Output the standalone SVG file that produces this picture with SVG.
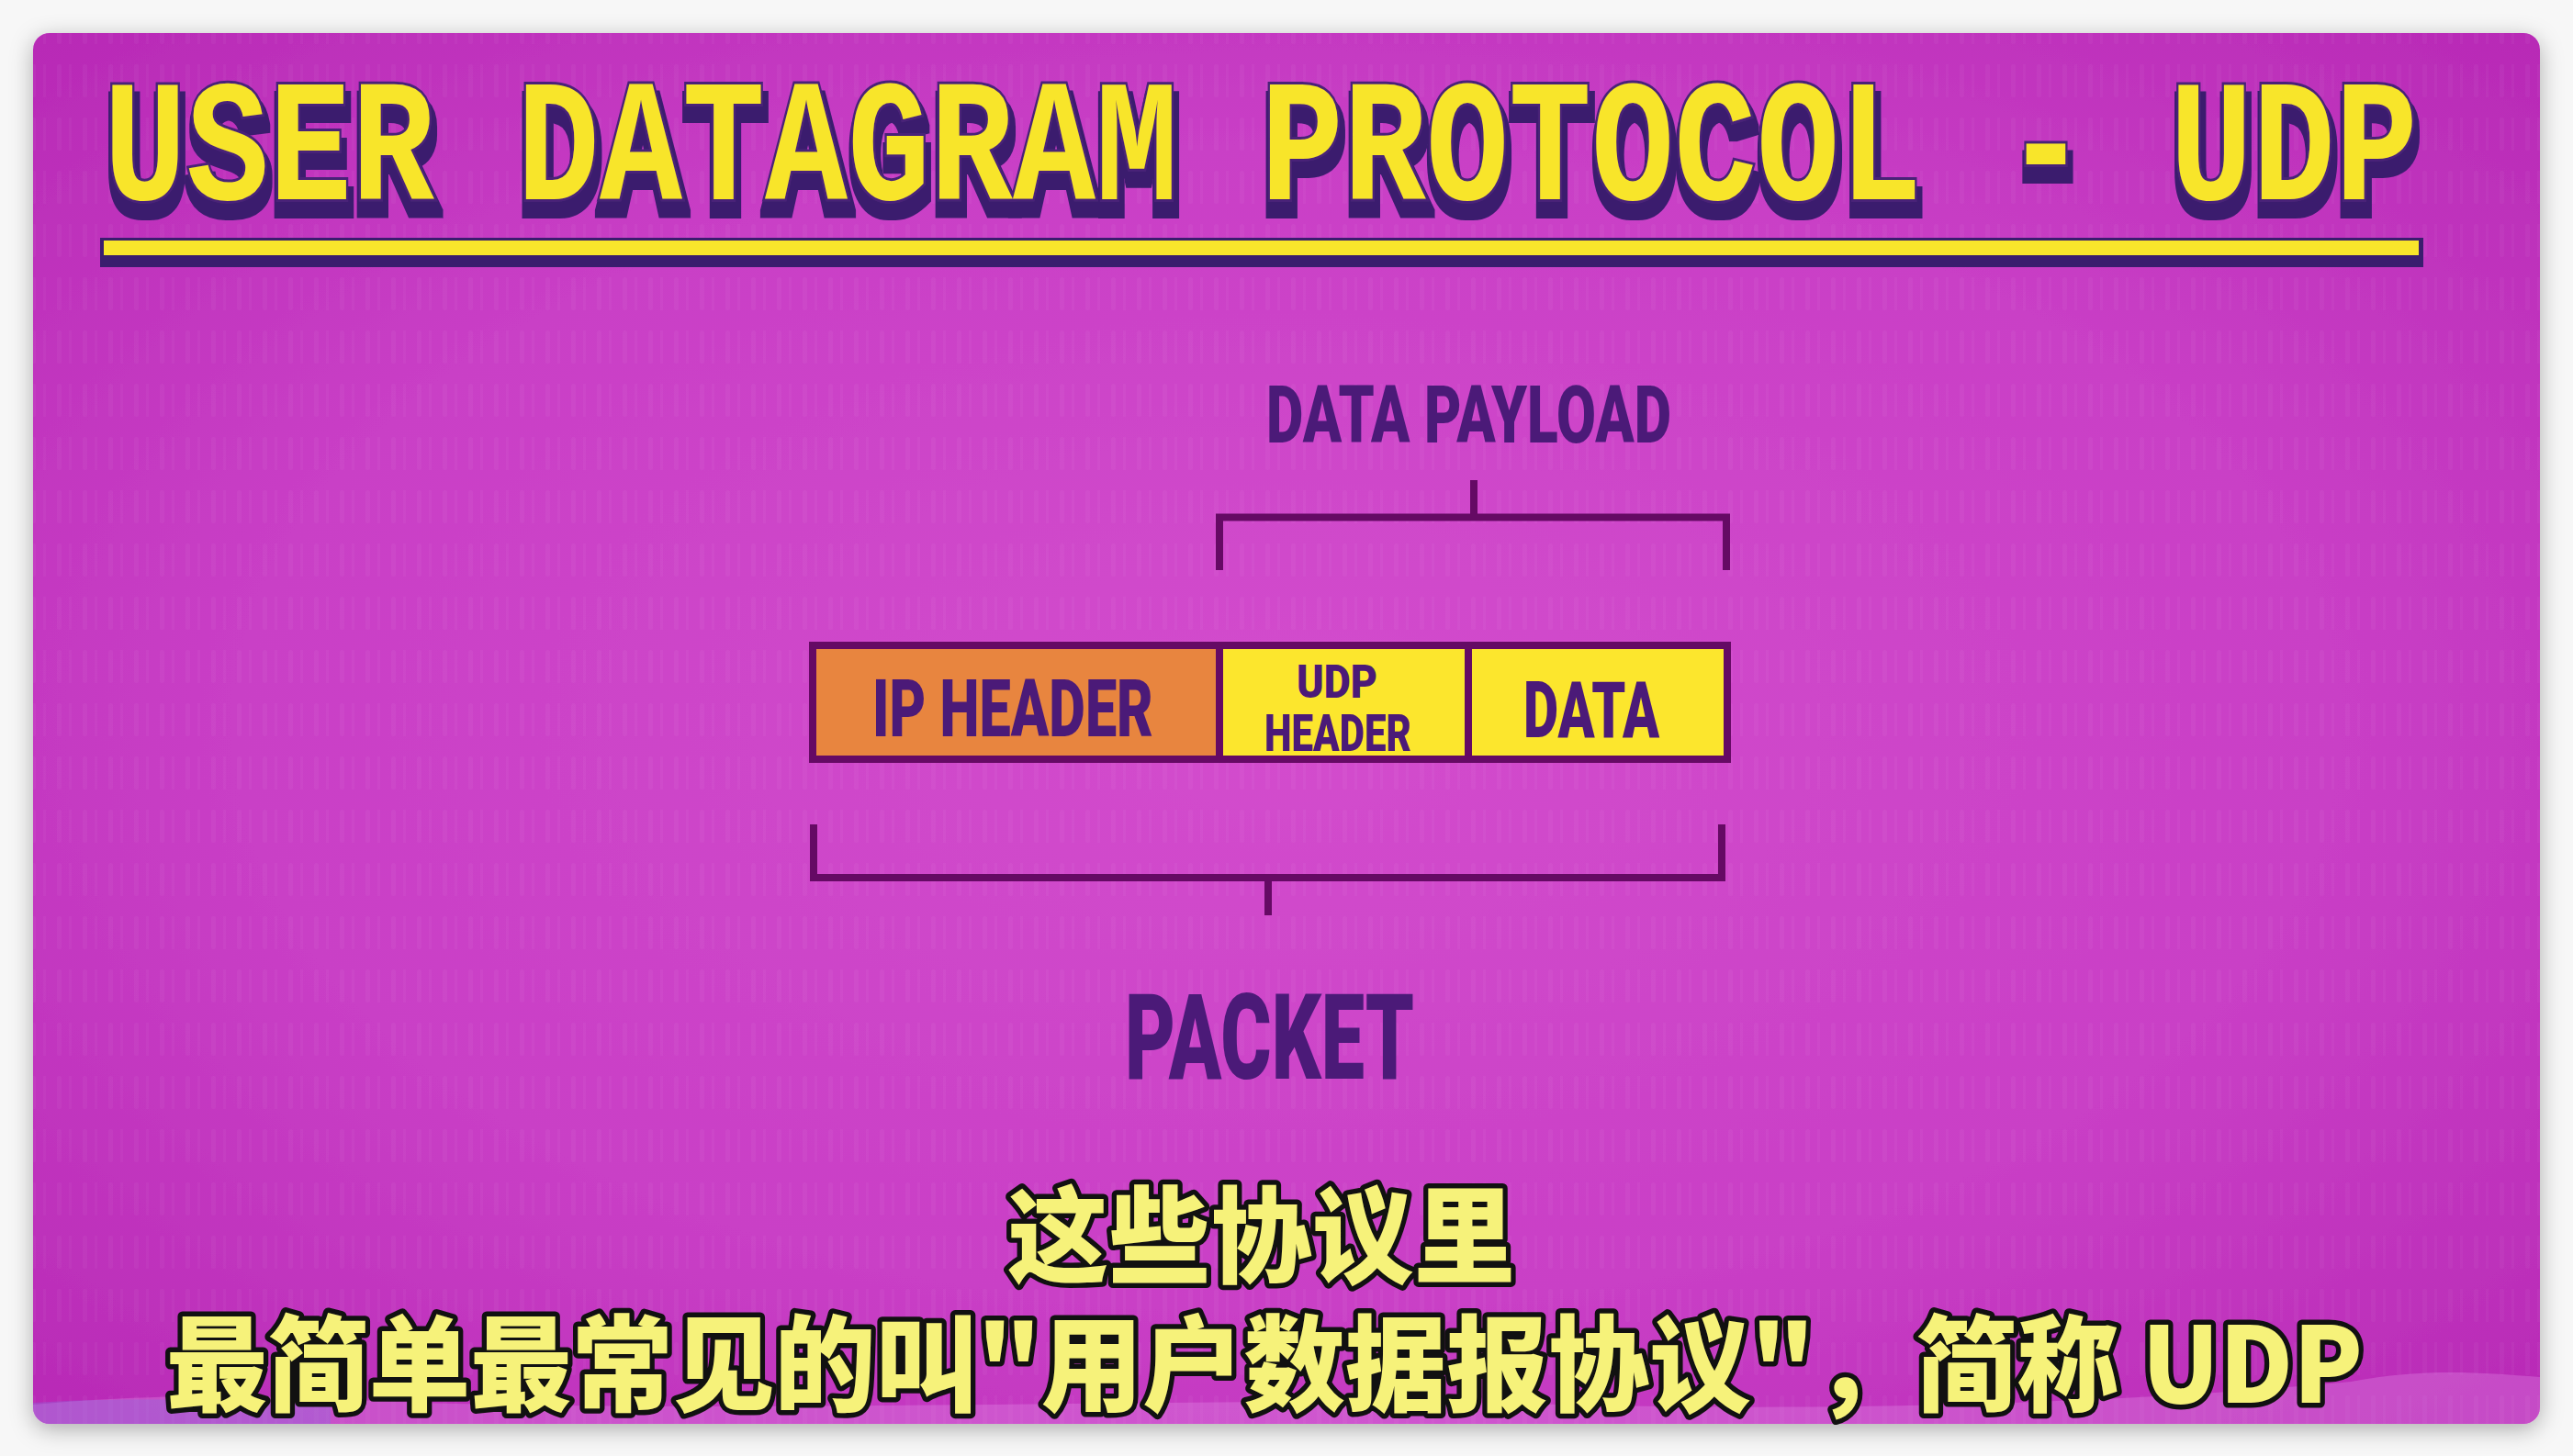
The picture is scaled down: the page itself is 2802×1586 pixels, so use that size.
<svg xmlns="http://www.w3.org/2000/svg" width="2802" height="1586" viewBox="0 0 2802 1586">
<defs>
<radialGradient id="bg" cx="0.5" cy="0.5" r="0.7">
<stop offset="0" stop-color="#d34dcd"/>
<stop offset="0.6" stop-color="#c93fc6"/>
<stop offset="1" stop-color="#b82ab6"/>
</radialGradient>
<filter id="sh" x="-5%" y="-5%" width="110%" height="110%">
<feDropShadow dx="0" dy="6" stdDeviation="12" flood-color="#000" flood-opacity="0.3"/>
</filter>
<filter id="ts" x="-2%" y="-30%" width="104%" height="170%">
<feMorphology in="SourceAlpha" operator="dilate" radius="4" result="d"/>
<feOffset in="d" dx="2" dy="14" result="o"/>
<feFlood flood-color="#3a1d6e"/>
<feComposite in2="o" operator="in" result="s"/>
<feMerge><feMergeNode in="s"/><feMergeNode in="SourceGraphic"/></feMerge>
</filter>
<clipPath id="fc"><rect x="36" y="36" width="2730" height="1515" rx="18"/></clipPath>
<pattern id="stripes" x="0" y="0" width="28" height="58" patternUnits="userSpaceOnUse">
<rect x="6" y="12" width="5" height="36" rx="2.5" fill="#ffffff" fill-opacity="0.035"/>
<rect x="19" y="12" width="3" height="36" fill="#ffffff" fill-opacity="0.03"/>
</pattern>
<style>
.lbl{font-family:Roboto,"Liberation Sans",Arial,sans-serif;font-weight:900;fill:#4b1a78;}
.cell{stroke:#650a64;stroke-width:8;}
.br{fill:none;stroke:#650a64;stroke-width:8;stroke-linecap:square;stroke-linejoin:miter;}
.ttl{font-family:"Liberation Mono","Courier New",monospace;font-weight:bold;font-size:190px;}
.sub{font-family:"Noto Sans CJK SC","Noto Sans",sans-serif;font-weight:900;font-size:114px;fill:#f6f27a;stroke:#111111;stroke-width:11;stroke-linejoin:round;paint-order:stroke;}
</style>
</defs>
<rect x="0" y="0" width="2802" height="1586" fill="#f7f7f7"/>
<g id="frame">
<rect x="36" y="36" width="2730" height="1515" rx="18" fill="url(#bg)" filter="url(#sh)"/>
<g clip-path="url(#fc)">
<rect x="36" y="36" width="2730" height="1515" fill="url(#stripes)"/>
<path d="M36 1530 C200 1515 320 1522 460 1528 C900 1540 1300 1520 1700 1530 C2100 1540 2400 1520 2560 1505 C2640 1490 2700 1495 2766 1500 L2766 1551 L36 1551 Z" fill="#e9a0f0" fill-opacity="0.28"/>
<path d="M36 1528 C120 1522 240 1524 360 1530 L360 1551 L36 1551 Z" fill="#8a70e0" fill-opacity="0.35"/>
</g>
</g>
<g id="title">
<rect x="109" y="259" width="2530" height="32" fill="#3a1d6e"/>
<rect x="113" y="262" width="2521" height="16" fill="#f8e52b"/>
<text class="ttl" x="113" y="217" textLength="2520" lengthAdjust="spacingAndGlyphs" fill="#f8e52b" stroke="#4a2478" stroke-width="6" stroke-linejoin="miter" paint-order="stroke" filter="url(#ts)">USER DATAGRAM PROTOCOL - UDP</text>
</g>
<g id="connectors">
<path class="br" d="M1328 617 V563.5 H1880 V617"/>
<path class="br" d="M1605 527 V563"/>
<path class="br" d="M886 902 V956 H1875 V902"/>
<path class="br" d="M1381 956 V993"/>
</g>
<g id="data-payload-label">
<text class="lbl" x="1379" y="482" font-size="87" textLength="441" lengthAdjust="spacingAndGlyphs">DATA PAYLOAD</text>
</g>
<g id="ip-header">
<rect class="cell" x="885" y="703" width="443" height="124" fill="#e8853f"/>
<text class="lbl" x="950" y="802" font-size="88" textLength="306" lengthAdjust="spacingAndGlyphs">IP HEADER</text>
</g>
<g id="udp-header">
<rect class="cell" x="1328" y="703" width="271" height="124" fill="#fce62d"/>
<text class="lbl" x="1412" y="760" font-size="50" textLength="88" lengthAdjust="spacingAndGlyphs">UDP</text>
<text class="lbl" x="1377" y="818" font-size="55" textLength="160" lengthAdjust="spacingAndGlyphs">HEADER</text>
</g>
<g id="data">
<rect class="cell" x="1599" y="703" width="282" height="124" fill="#fce62d"/>
<text class="lbl" x="1659" y="803" font-size="86" textLength="148" lengthAdjust="spacingAndGlyphs">DATA</text>
</g>
<g id="packet-label">
<text class="lbl" x="1225" y="1175" font-size="129" textLength="315" lengthAdjust="spacingAndGlyphs">PACKET</text>
</g>
<g id="subtitle">
<text class="sub" x="1097" y="1388" textLength="553" lengthAdjust="spacingAndGlyphs">这些协议里</text>
<text class="sub" x="181" y="1528" textLength="2392" lengthAdjust="spacingAndGlyphs">最简单最常见的叫"用户数据报协议"，简称 UDP</text>
</g>
</svg>
